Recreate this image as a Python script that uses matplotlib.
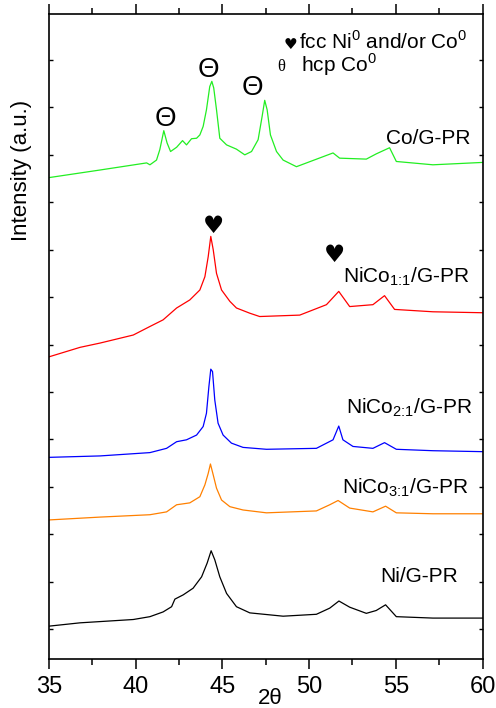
import numpy as np
import matplotlib.pyplot as plt

plt.rcParams['font.family'] = ['Liberation Sans', 'DejaVu Sans']
plt.rcParams['mathtext.fontset'] = 'custom'
plt.rcParams['mathtext.rm'] = 'Liberation Sans'

# XRD patterns (2theta, stacked intensity in a.u.)
co_x = [35.0, 37.94, 40.63, 40.82, 41.2, 41.39, 41.62, 41.81, 42.01, 42.36, 42.7, 42.93,
        43.22, 43.51, 43.7, 43.89, 44.08, 44.27, 44.39, 44.5, 44.66, 44.85, 45.24, 45.81,
        46.29, 46.68, 47.06, 47.29, 47.44, 47.58, 47.77, 48.12, 48.5, 49.27, 51.38, 51.76,
        53.3, 53.87, 54.64, 55.03, 57.14, 60.0]
co_y = [9.52, 9.68, 9.83, 9.79, 9.89, 10.11, 10.51, 10.25, 10.07, 10.16, 10.30, 10.21,
        10.34, 10.35, 10.42, 10.60, 10.95, 11.44, 11.55, 11.41, 10.95, 10.35, 10.21, 10.12,
        10.00, 10.07, 10.32, 10.81, 11.15, 10.95, 10.42, 10.07, 9.89, 9.75, 10.04, 9.93,
        9.91, 10.02, 10.15, 9.86, 9.79, 9.84]

nico11_x = [35.0, 36.79, 37.94, 39.86, 40.82, 41.58, 42.36, 43.12, 43.7, 43.99, 44.18, 44.33,
            44.47, 44.66, 44.95, 45.43, 45.81, 46.58, 47.15, 49.46, 51.0, 51.71, 52.34, 53.68,
            54.35, 54.93, 57.14, 60.0]
nico11_y = [5.74, 5.94, 6.03, 6.20, 6.38, 6.52, 6.77, 6.94, 7.15, 7.43, 7.85, 8.28,
            8.00, 7.50, 7.15, 6.91, 6.77, 6.66, 6.59, 6.62, 6.84, 7.12, 6.80, 6.84,
            7.03, 6.74, 6.69, 6.67]

nico21_x = [35.0, 37.94, 40.82, 41.78, 42.36, 42.93, 43.51, 43.89, 44.08, 44.22, 44.33, 44.43,
            44.56, 44.75, 45.04, 45.52, 46.19, 47.54, 50.42, 51.38, 51.71, 51.95, 52.53, 53.68,
            54.35, 55.03, 57.14, 60.0]
nico21_y = [3.62, 3.65, 3.72, 3.81, 3.95, 3.99, 4.09, 4.27, 4.55, 5.11, 5.48, 5.43,
            4.83, 4.34, 4.09, 3.92, 3.83, 3.79, 3.81, 3.99, 4.28, 3.99, 3.85, 3.81,
            3.93, 3.79, 3.76, 3.74]

nico31_x = [35.0, 37.94, 40.82, 41.78, 42.36, 43.12, 43.7, 43.99, 44.18, 44.31, 44.47, 44.66,
            44.95, 45.43, 46.19, 47.54, 50.42, 51.19, 51.67, 52.34, 53.68, 54.41, 55.03, 57.14,
            60.0]
nico31_y = [2.30, 2.36, 2.41, 2.47, 2.62, 2.66, 2.79, 3.04, 3.28, 3.48, 3.25, 2.97,
            2.72, 2.58, 2.51, 2.45, 2.49, 2.62, 2.71, 2.55, 2.47, 2.59, 2.45, 2.43,
            2.43]

ni_x = [35.0, 36.79, 39.86, 40.82, 41.58, 42.07, 42.26, 42.74, 43.31, 43.8, 44.12, 44.35,
        44.56, 44.85, 45.24, 45.81, 46.58, 48.5, 50.42, 51.19, 51.72, 52.34, 53.3, 53.87,
        54.41, 55.03, 57.14, 60.0]
ni_y = [0.06, 0.13, 0.20, 0.26, 0.36, 0.47, 0.63, 0.72, 0.86, 1.10, 1.39, 1.65,
        1.46, 1.10, 0.75, 0.47, 0.34, 0.27, 0.31, 0.44, 0.59, 0.46, 0.33, 0.39,
        0.51, 0.26, 0.23, 0.23]

fig = plt.figure(figsize=(4.96, 7.08), dpi=100)
ax = fig.add_axes([0.0988, 0.0692, 0.874, 0.911])

ax.plot(co_x, co_y, color='#22ee22', lw=0.9)
ax.plot(nico11_x, nico11_y, color='#ff0000', lw=0.9)
ax.plot(nico21_x, nico21_y, color='#0000ff', lw=0.9)
ax.plot(nico31_x, nico31_y, color='#ff8000', lw=0.9)
ax.plot(ni_x, ni_y, color='black', lw=0.9)

ax.set_xlim(35, 60)
ax.set_ylim(-0.633, 12.97)
ax.set_xticks([35, 40, 45, 50, 55, 60])
ax.set_xticks(np.arange(37.5, 60, 5), minor=True)
ax.set_yticks(np.arange(0, 13))
ax.set_yticklabels([])
ax.tick_params(axis='x', which='major', direction='out', length=7, width=1.1, labelsize=17, pad=5)
ax.tick_params(axis='x', which='minor', direction='out', length=4, width=1.1)
ax.tick_params(axis='y', direction='in', length=3, width=1, left=True, right=True)
ax.tick_params(axis='x', which='both', top=True)
for s in ax.spines.values():
    s.set_linewidth(1.2)

# sample labels
fs = 15
ax.text(59.31, 10.23, 'Co/G-PR', fontsize=fs, ha='right', va='baseline')
ax.text(59.25, 7.31, r'NiCo$_{\text{1:1}}$/G-PR', fontsize=fs, ha='right', va='baseline')
ax.text(59.4, 4.55, r'NiCo$_{\text{2:1}}$/G-PR', fontsize=fs, ha='right', va='baseline')
ax.text(59.21, 2.86, r'NiCo$_{\text{3:1}}$/G-PR', fontsize=fs, ha='right', va='baseline')
ax.text(58.58, 0.99, 'Ni/G-PR', fontsize=fs, ha='right', va='baseline')

# peak markers
for px, py in [(41.72, 10.61), (44.22, 11.64), (46.73, 11.27)]:
    ax.text(px, py, '\u0398', fontsize=20, ha='center', va='baseline')
for px, py in [(44.47, 8.36), (51.47, 7.75)]:
    ax.text(px, py, '\u2665', fontsize=17, ha='center', va='baseline',
            family='DejaVu Sans')

# key
ax.text(48.94, 12.23, '\u2665', fontsize=11, ha='center', va='baseline', family='DejaVu Sans')
ax.text(49.42, 12.23, r'fcc Ni$^0$ and/or Co$^0$', fontsize=15, ha='left', va='baseline')
ax.text(48.4, 11.76, '\u03b8', fontsize=12, ha='center', va='baseline', family='Liberation Serif')
ax.text(49.55, 11.76, r'hcp Co$^0$', fontsize=15, ha='left', va='baseline')

fig.text(22 / 496, 1 - 170 / 708, 'Intensity (a.u.)', fontsize=16, rotation=90,
         ha='center', va='center')
fig.text(270 / 496, 1 - 698 / 708, '2\u03b8', fontsize=16, ha='center', va='center')

fig.savefig('out.png', dpi=100)
